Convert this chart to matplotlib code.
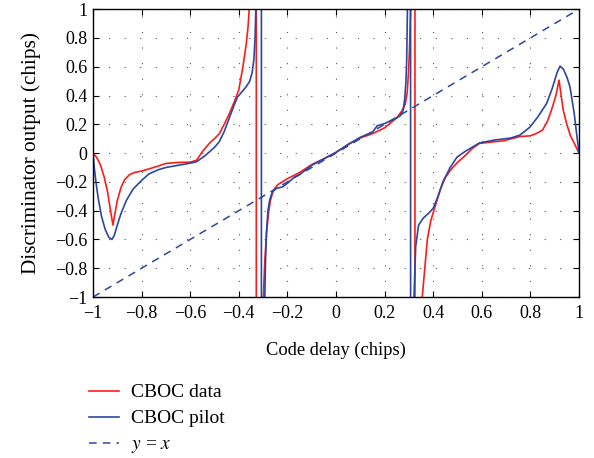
import numpy as np
import matplotlib
matplotlib.use("Agg")
import matplotlib.pyplot as plt

# CBOC data discriminator output (poles drawn as a jump from +big to -big)
data_x = [-1.0, -0.985, -0.97, -0.955, -0.94, -0.928, -0.918, -0.912, -0.9, -0.885,
          -0.87, -0.85, -0.83, -0.8, -0.75, -0.7, -0.65, -0.6, -0.574, -0.55,
          -0.52, -0.5, -0.48, -0.46, -0.44, -0.42, -0.4, -0.383, -0.37, -0.362,
          -0.355, -0.345, -0.328, -0.328, -0.306, -0.299, -0.293, -0.286, -0.278, -0.27,
          -0.258, -0.24, -0.2, -0.15, -0.1, -0.05, 0.0, 0.05, 0.1, 0.15,
          0.2, 0.25, 0.27, 0.285, 0.293, 0.298, 0.302, 0.307, 0.315, 0.325,
          0.325, 0.345, 0.355, 0.366, 0.376, 0.39, 0.41, 0.43, 0.45, 0.475,
          0.5, 0.53, 0.56, 0.59, 0.63, 0.689, 0.757, 0.8, 0.826, 0.85,
          0.87, 0.887, 0.905, 0.918, 0.925, 0.935, 0.949, 0.965, 0.98, 1.0]
data_y = [0.0, -0.03, -0.08, -0.16, -0.27, -0.4, -0.5, -0.44, -0.33, -0.24,
          -0.185, -0.15, -0.135, -0.125, -0.1, -0.072, -0.065, -0.063, -0.05, 0.01,
          0.07, 0.1, 0.135, 0.2, 0.27, 0.35, 0.44, 0.6, 0.75, 0.877,
          1.05, 1.8, 20, -20, -1.8, -1.0, -0.75, -0.556, -0.42, -0.33,
          -0.26, -0.22, -0.178, -0.135, -0.08, -0.04, 0.005, 0.06, 0.105, 0.135,
          0.175, 0.245, 0.29, 0.34, 0.42, 0.55, 0.7, 1.0, 2.0, 20,
          -20, -2.0, -1.0, -0.79, -0.6, -0.47, -0.36, -0.25, -0.17, -0.11,
          -0.065, -0.02, 0.03, 0.067, 0.075, 0.085, 0.115, 0.12, 0.137, 0.16,
          0.22, 0.3, 0.4, 0.507, 0.42, 0.3, 0.206, 0.12, 0.07, 0.0]

# CBOC pilot discriminator output
pilot_x = [-1.0, -0.995, -0.988, -0.978, -0.965, -0.95, -0.935, -0.922, -0.912, -0.9,
           -0.885, -0.863, -0.835, -0.8, -0.77, -0.73, -0.7, -0.65, -0.6, -0.574,
           -0.54, -0.5, -0.48, -0.46, -0.44, -0.42, -0.405, -0.39, -0.37, -0.355,
           -0.345, -0.338, -0.333, -0.33, -0.32, -0.307, -0.307, -0.296, -0.293, -0.29,
           -0.286, -0.28, -0.272, -0.262, -0.245, -0.22, -0.2, -0.17, -0.15, -0.1,
           -0.05, 0.0, 0.05, 0.1, 0.15, 0.17, 0.2, 0.25, 0.265, 0.277,
           0.283, 0.288, 0.291, 0.294, 0.3, 0.307, 0.307, 0.317, 0.321, 0.328,
           0.34, 0.36, 0.38, 0.40, 0.42, 0.44, 0.47, 0.497, 0.53, 0.56,
           0.59, 0.65, 0.72, 0.757, 0.798, 0.83, 0.867, 0.89, 0.91, 0.922,
           0.935, 0.95, 0.963, 0.98, 1.0]
pilot_y = [0.0, -0.1, -0.2, -0.32, -0.44, -0.53, -0.585, -0.6, -0.57, -0.5,
           -0.42, -0.33, -0.25, -0.19, -0.145, -0.115, -0.1, -0.085, -0.07, -0.06,
           -0.02, 0.04, 0.08, 0.15, 0.24, 0.33, 0.39, 0.42, 0.46, 0.5,
           0.56, 0.65, 0.8, 1.0, 2.0, 20, -20, -1.8, -1.0, -0.75,
           -0.55, -0.4, -0.32, -0.27, -0.245, -0.235, -0.21, -0.165, -0.15, -0.085,
           -0.04, 0.005, 0.06, 0.11, 0.145, 0.19, 0.205, 0.245, 0.26, 0.3,
           0.38, 0.5, 0.65, 1.0, 2.0, 20, -20, -2.0, -1.0, -0.65,
           -0.5, -0.45, -0.42, -0.384, -0.3, -0.2, -0.1, -0.03, 0.01, 0.04,
           0.07, 0.09, 0.105, 0.125, 0.18, 0.25, 0.345, 0.45, 0.56, 0.604,
           0.585, 0.53, 0.46, 0.28, 0.0]

ref_x = [-1.0, 1.0]
ticks = [-1, -0.8, -0.6, -0.4, -0.2, 0, 0.2, 0.4, 0.6, 0.8, 1]
tick_labels = ["\u22121", "\u22120.8", "\u22120.6", "\u22120.4", "\u22120.2",
               "0", "0.2", "0.4", "0.6", "0.8", "1"]

plt.rcParams["font.family"] = ["Liberation Serif", "DejaVu Serif"]
plt.rcParams["mathtext.fontset"] = "stix"

fig = plt.figure(figsize=(5.94, 4.58), dpi=100)
ax = fig.add_axes([0.1566, 0.3515, 0.8181, 0.6285])

ax.plot(data_x, data_y, color="#ff1a1a", lw=1.2, label="CBOC data")
ax.plot(pilot_x, pilot_y, color="#2b47a3", lw=1.2, label="CBOC pilot")
ax.plot(ref_x, ref_x, color="#2b47a3", lw=1.1, ls=(0, (5, 4)), label="$y$ = $x$")

ax.set_xlim(-1, 1)
ax.set_ylim(-1, 1)
ax.set_xticks(ticks)
ax.set_xticklabels(tick_labels)
ax.set_yticks(ticks)
ax.set_yticklabels(tick_labels)
ax.tick_params(direction="in", top=True, right=True, labelsize=13, length=4)
ax.tick_params(axis="x", pad=6)
ax.tick_params(axis="y", pad=4)
ax.grid(True, color="#555555", ls=(0, (1, 13)), lw=0.8)
for s in ax.spines.values():
    s.set_linewidth(1.0)

ax.set_xlabel("Code delay (chips)", fontsize=13.3, labelpad=14)
ax.set_ylabel("Discriminator output (chips)", fontsize=15.3, labelpad=10)

fig.legend(loc="upper left", bbox_to_anchor=(0.137, 0.179), frameon=False,
           fontsize=14, handlelength=1.55, handletextpad=0.6, labelspacing=0.43,
           borderaxespad=0)

fig.savefig("out.png", dpi=100)
